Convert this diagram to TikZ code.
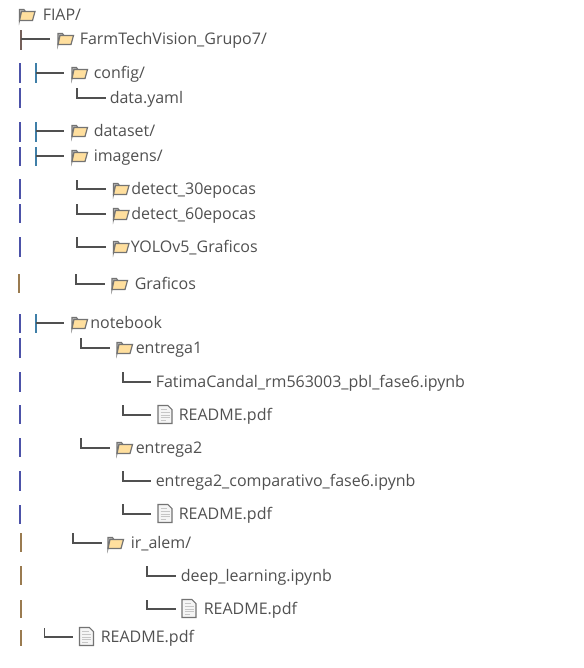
\documentclass[tikz,border=0pt]{standalone}
\usepackage{fontspec}
\setmainfont{Open Sans}
\definecolor{treeline}{HTML}{505050}
\definecolor{treetext}{HTML}{505050}
\definecolor{barblue}{HTML}{4C52A8}
\definecolor{barbrown}{HTML}{9A7B50}
\definecolor{teeblue}{HTML}{3F7FA8}
\definecolor{teebrown}{HTML}{75605A}
\definecolor{folderfill}{HTML}{FFDF9E}
\newcommand{\foldericon}{\tikz[x=0.75pt,y=-0.75pt]{
      \useasboundingbox (0,0) rectangle (18,14);
      \draw [treeline!80,line width=.8pt,fill=gray!40] (1.5,12.5) -- (1.5,1.5) -- (6,1.5) -- (7.5,3.5) -- (3.5,3.5) -- cycle;
      \draw [treeline!80,line width=.9pt,fill=folderfill] (1.5,12.5) -- (3.5,3.5) -- (17,3.5) -- (14.5,12.5) -- cycle;
}}
\newcommand{\pageicon}{\tikz[x=0.75pt,y=-0.75pt]{
      \useasboundingbox (0,-1) rectangle (16,21);
      \draw [treeline!80,line width=.8pt,fill=gray!8] (1,0.5) -- (11,0.5) -- (15,4.5) -- (15,18.5) -- (1,18.5) -- cycle;
      \draw [gray!45,line width=.7pt] (3.5,4.5) -- (10,4.5) (3.5,7.5) -- (12.5,7.5) (3.5,10) -- (12.5,10) (3.5,12.5) -- (12.5,12.5) (3.5,15) -- (9,15);
}}
\tikzset{
  branch/.style={treeline,line width=1.3pt},
  bar/.style={barblue,line width=1pt},
  barb/.style={barbrown,line width=1pt},
  tee/.style={teeblue,line width=1pt},
  label/.style={anchor=west,inner sep=0pt,text=treetext,font=\fontsize{12pt}{14pt}\selectfont,text height=9.6pt,text depth=1.4pt},
  folder/.style={inner sep=0pt,outer sep=0pt},
  docicon/.style={inner sep=0pt,outer sep=0pt}
}
\begin{document}
\begin{tikzpicture}[x=0.75pt,y=-0.75pt]
        \useasboundingbox (0,0) rectangle (584,668);
        % root
        \node (fiapicon) [folder] at (27,15) {\foldericon};
        \node (fiap) [label] at (42.5,15) {FIAP/};
        \node (farmicon) [folder] at (65.5,39) {\foldericon};
        \node (farm) [label] at (79.5,39) {FarmTechVision\_Grupo7/};
        \coordinate (farmtop) at (21,30);
        \coordinate (farmbot) at (21,50);
        \draw [teebrown,line width=1pt] (farmtop) -- (farmbot);
        \draw [branch,shorten >=5pt] (farmtop |- farmicon) -- (farmicon.west);

        % config
        \node (configicon) [folder] at (79.5,73) {\foldericon};
        \node (config) [label] at (93.5,73) {config/};
        \coordinate (configtop) at (36,63);
        \coordinate (configbot) at (36,83);
        \draw [tee] (configtop) -- (configbot);
        \draw [branch,shorten >=5pt] (configtop |- configicon) -- (configicon.west);
        \node (yaml) [label] at (109.5,98) {data.yaml};
        \coordinate (yamltop) at (77,88);
        \draw [branch,shorten >=3pt] (yamltop) |- (yaml.west);

        % dataset, imagens
        \node (dataseticon) [folder] at (79.5,131) {\foldericon};
        \node (dataset) [label] at (93.5,131) {dataset/};
        \coordinate (datasettop) at (36,122);
        \coordinate (datasetbot) at (36,142);
        \draw [tee] (datasettop) -- (datasetbot);
        \draw [branch,shorten >=5pt] (datasettop |- dataseticon) -- (dataseticon.west);
        \node (imagensicon) [folder] at (79.5,156) {\foldericon};
        \node (imagens) [label] at (93.5,156) {imagens/};
        \coordinate (imagenstop) at (36,147);
        \coordinate (imagensbot) at (36,166);
        \draw [tee] (imagenstop) -- (imagensbot);
        \draw [branch,shorten >=5pt] (imagenstop |- imagensicon) -- (imagensicon.west);

        % imagens content
        \node (d30icon) [folder] at (121,189) {\foldericon};
        \node (d30) [label] at (131,189) {detect\_30epocas};
        \coordinate (d30top) at (77,180);
        \draw [branch,shorten >=4.5pt] (d30top) |- (d30icon.west);
        \node (d60icon) [folder] at (121,214) {\foldericon};
        \node (d60) [label] at (131,214) {detect\_60epocas};
        \coordinate (d60top) at (77,204);
        \draw [branch,shorten >=4.5pt] (d60top) |- (d60icon.west);
        \node (yoloicon) [folder] at (121,247) {\foldericon};
        \node (yolo) [label] at (130.5,247) {YOLOv5\_Graficos};
        \coordinate (yolotop) at (77,237);
        \draw [branch,shorten >=4.5pt] (yolotop) |- (yoloicon.west);
        \node (graficon) [folder] at (119.5,284) {\foldericon};
        \node (graf) [label] at (134.5,284) {Graficos};
        \coordinate (graftop) at (76,274);
        \draw [branch,shorten >=4.2pt] (graftop) |- (graficon.west);

        % notebook
        \node (noteicon) [folder] at (79.5,323) {\foldericon};
        \node (note) [label] at (90,323) {notebook};
        \coordinate (notetop) at (36,314);
        \coordinate (notebot) at (36,333);
        \draw [tee] (notetop) -- (notebot);
        \draw [branch,shorten >=5pt] (notetop |- noteicon) -- (noteicon.west);

        \node (ent1icon) [folder] at (124.5,348) {\foldericon};
        \node (ent1) [label] at (135.5,348) {entrega1};
        \coordinate (ent1top) at (81,338);
        \draw [branch,shorten >=4.2pt] (ent1top) |- (ent1icon.west);
        \node (fatima) [label] at (155.5,382) {FatimaCandal\_rm563003\_pbl\_fase6.ipynb};
        \coordinate (fatimatop) at (123,372);
        \draw [branch,shorten >=3.5pt] (fatimatop) |- (fatima.west);
        \node (read1icon) [docicon] at (165,415) {\pageicon};
        \node (read1) [label] at (178.5,415) {README.pdf};
        \coordinate (read1top) at (123,405);
        \draw [branch,shorten >=4.5pt] (read1top) |- (read1icon.west);

        \node (ent2icon) [folder] at (124.5,448) {\foldericon};
        \node (ent2) [label] at (135.5,448) {entrega2};
        \coordinate (ent2top) at (81,438);
        \draw [branch,shorten >=4.2pt] (ent2top) |- (ent2icon.west);
        \node (comp) [label] at (155.5,481) {entrega2\_comparativo\_fase6.ipynb};
        \coordinate (comptop) at (123,471);
        \draw [branch,shorten >=3.5pt] (comptop) |- (comp.west);
        \node (read2icon) [docicon] at (165,514) {\pageicon};
        \node (read2) [label] at (178.5,514) {README.pdf};
        \coordinate (read2top) at (123,504);
        \draw [branch,shorten >=4.5pt] (read2top) |- (read2icon.west);

        % ir_alem
        \node (iralemicon) [folder] at (115.5,543) {\foldericon};
        \node (iralem) [label] at (130.5,543) {ir\_alem/};
        \coordinate (iralemtop) at (73,533);
        \draw [branch,shorten >=3.5pt] (iralemtop) |- (iralemicon.west);
        \node (deep) [label] at (180.5,576) {deep\_learning.ipynb};
        \coordinate (deeptop) at (147,566);
        \draw [branch,shorten >=3.5pt] (deeptop) |- (deep.west);
        \node (read3icon) [docicon] at (189,609) {\pageicon};
        \node (read3) [label] at (203.5,609) {README.pdf};
        \coordinate (read3top) at (147,600);
        \draw [branch,shorten >=3.5pt] (read3top) |- (read3icon.west);

        % last file
        \node (read4icon) [docicon] at (86.5,637) {\pageicon};
        \node (read4) [label] at (100.5,637) {README.pdf};
        \coordinate (read4top) at (44.5,628);
        \draw [branch,shorten >=4pt] (read4top) |- (read4icon.west);

        % left bars
        \draw [bar] (20,63) -- (20,83);
        \draw [bar] (20,88) -- (20,108);
        \draw [bar] (20,122) -- (20,142);
        \draw [bar] (20,147) -- (20,166);
        \draw [bar] (20,179) -- (20,199);
        \draw [bar] (20,204) -- (20,223);
        \draw [bar] (20,237) -- (20,257);
        \draw [barb] (19,274) -- (19,293);
        \draw [bar] (20,314) -- (20,333);
        \draw [bar] (20,338) -- (20,358);
        \draw [bar] (20,372) -- (20,392);
        \draw [bar] (20,405) -- (20,424);
        \draw [bar] (20,438) -- (20,457);
        \draw [bar] (20,471) -- (20,491);
        \draw [bar] (20,505) -- (20,524);
        \draw [barb] (21,533) -- (21,552);
        \draw [barb] (21,566) -- (21,585);
        \draw [barb] (21,600) -- (21,618);
        \draw [barb] (21,630) -- (21,646);
\end{tikzpicture}
\end{document}
